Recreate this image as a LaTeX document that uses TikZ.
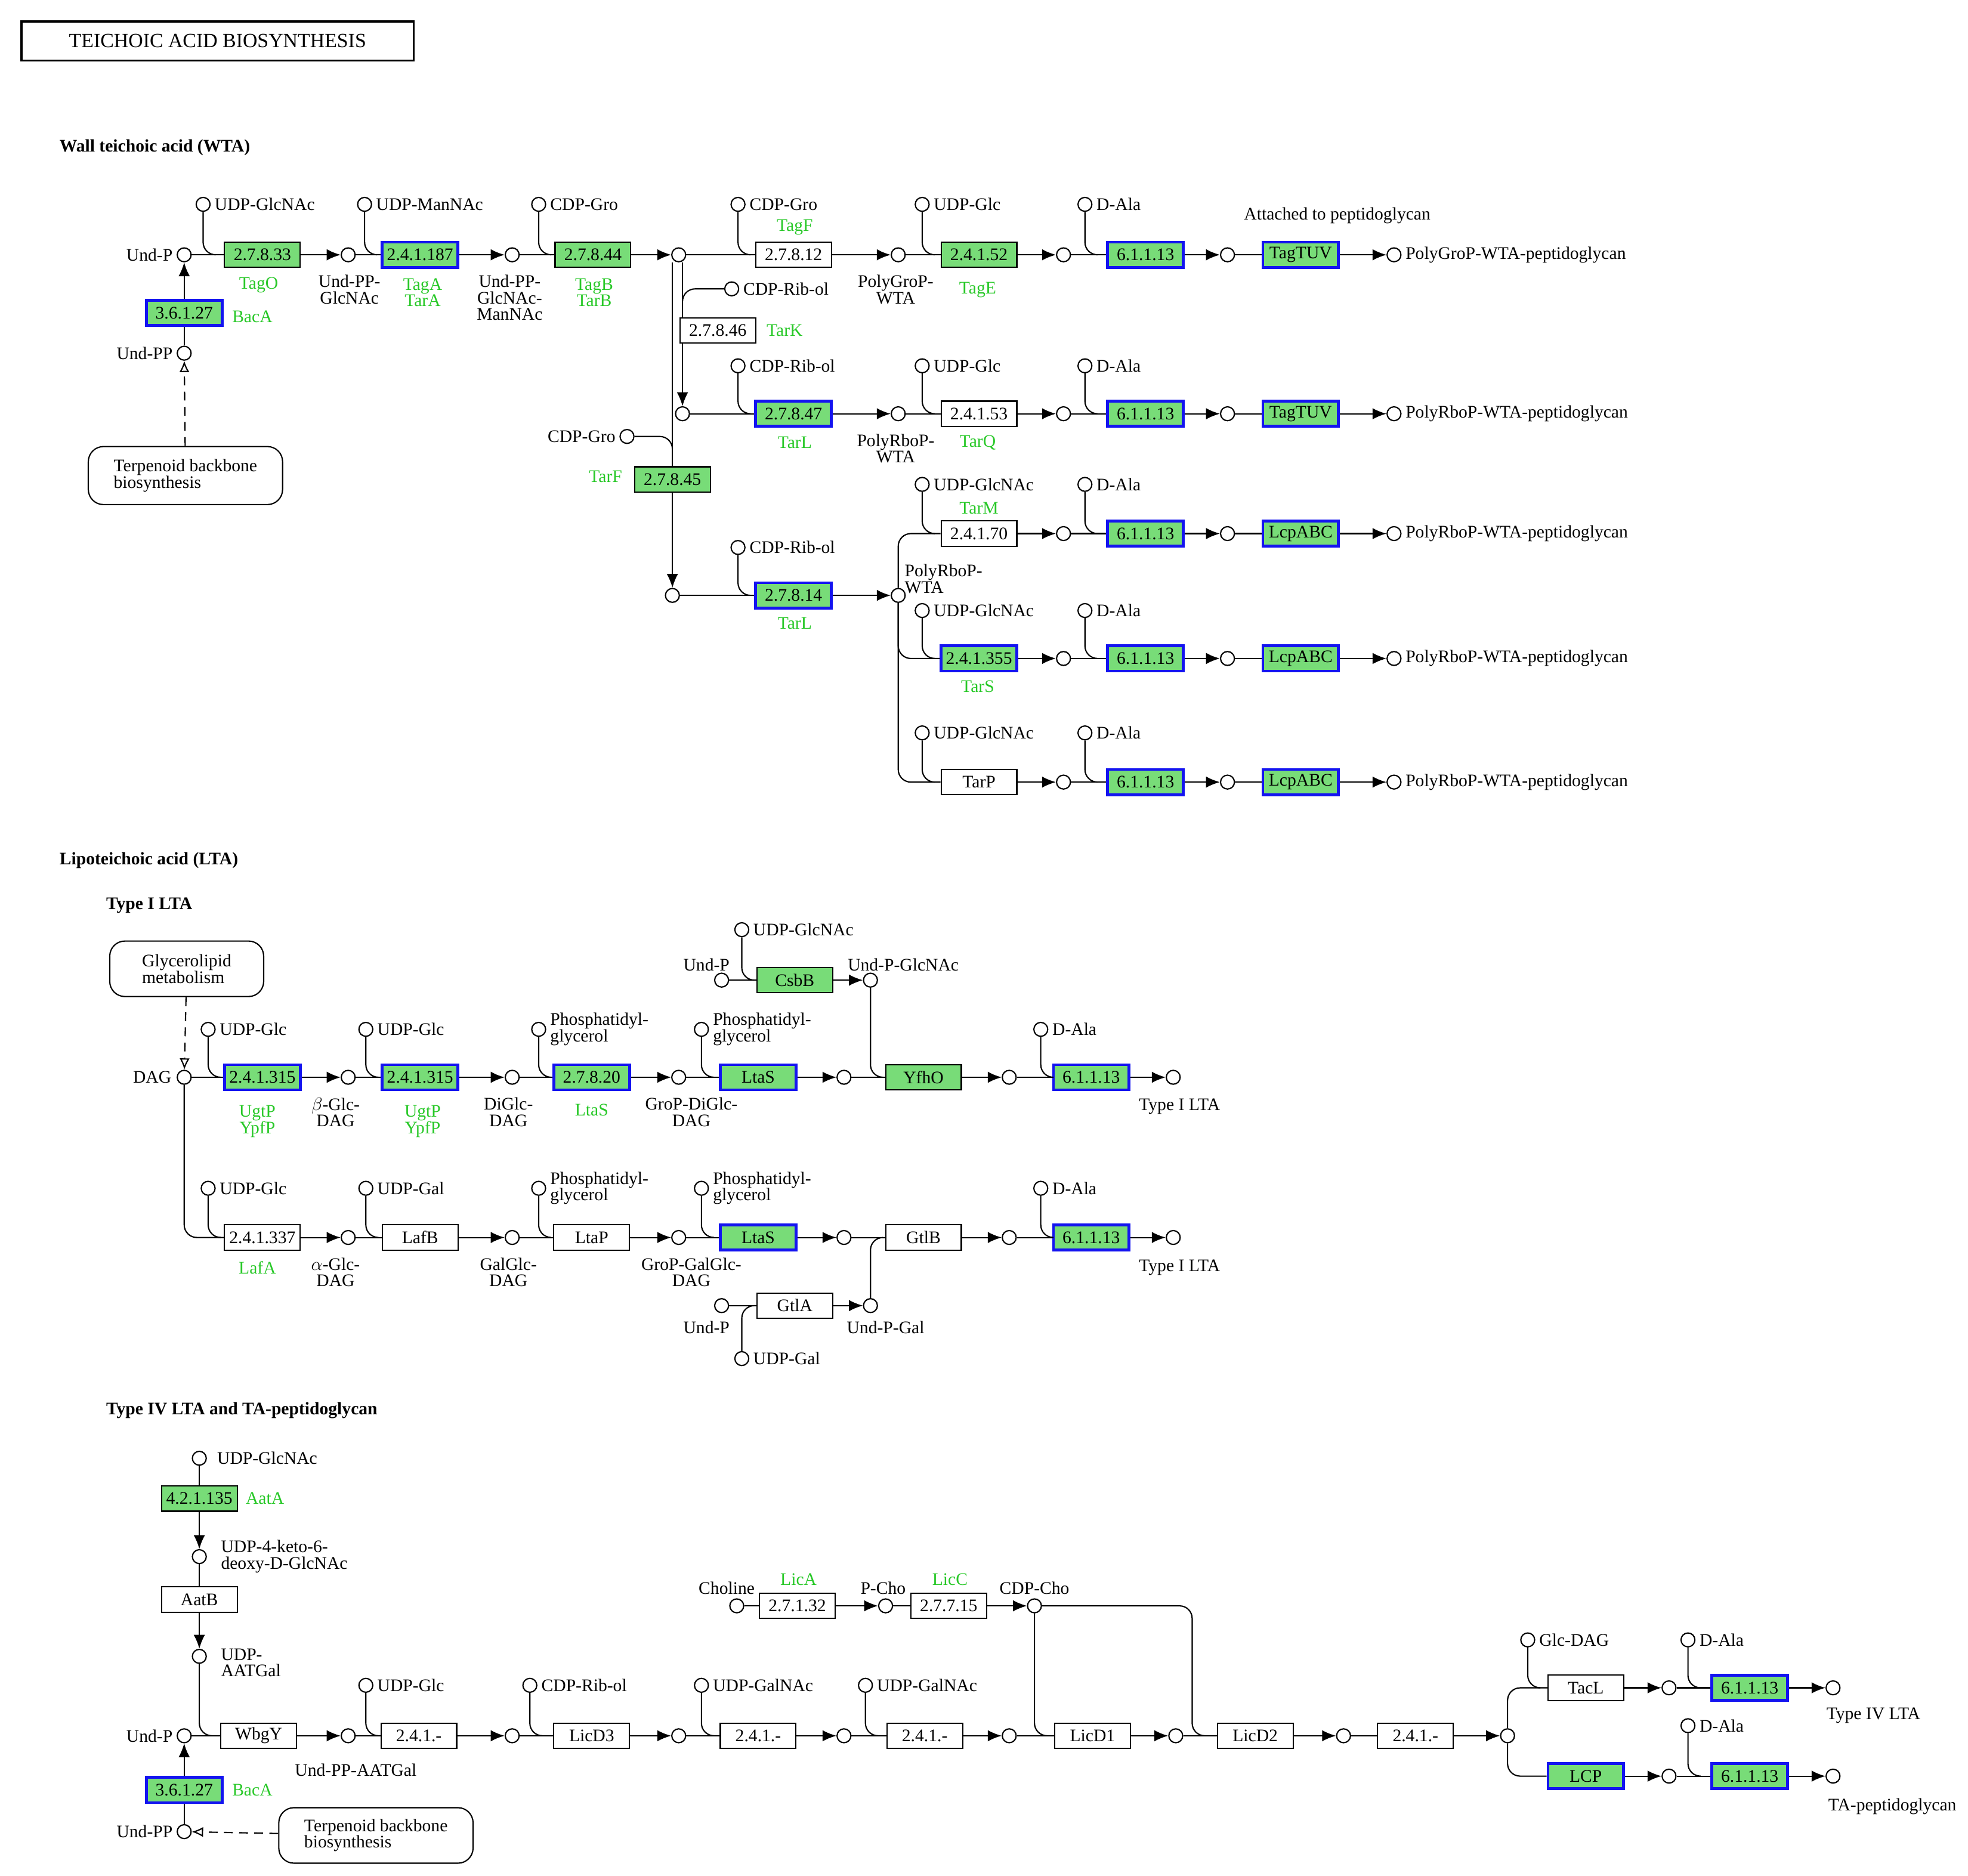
\documentclass[tikz,border=0pt]{standalone}
\usepackage{fontspec}
\setmainfont{Liberation Serif}
\usetikzlibrary{arrows.meta}
\definecolor{kg}{RGB}{120,220,120}
\definecolor{kb}{RGB}{20,20,240}
\definecolor{kt}{RGB}{40,200,40}
\newcommand\lf{\fontsize{14}{13}\selectfont}
\tikzset{
 cp/.style={circle,draw,fill=white,minimum size=11pt,inner sep=0pt,line width=1pt},
 e/.style={draw,fill=white,minimum width=60pt,minimum height=20pt,inner sep=0pt,line width=1pt,font=\lf},
 eg/.style={e,fill=kg},
 eb/.style={e,fill=kg,draw=kb,line width=2.2pt},
 gl/.style={text=kt,font=\lf,align=center,inner sep=0pt},
 lab/.style={align=left,inner sep=0pt,font=\lf},
 labc/.style={align=center,inner sep=0pt,font=\lf},
 ln/.style={line width=1pt},
 ar/.style={line width=1pt,-{Latex[length=11pt,width=9pt]}},
 da/.style={line width=1pt,dashed,dash pattern=on 7pt off 5pt,-{Latex[open,length=9pt,width=8pt]}},
 rb/.style={draw,rounded corners=12pt,line width=1pt,align=left,font=\lf,inner sep=0pt},
 hd/.style={font=\fontsize{14}{14}\selectfont\bfseries,anchor=west,inner sep=0pt}
}
\newcommand\cpd[3]{\node[cp] (#1) at (#2,#3) {};}
\newcommand\enz[5]{\node[#4] (#1) at (#2,#3) {#5};}
\newcommand\sdd[5]{\node[cp] (#1) at (#2,#3) {};
 \node[lab,anchor=west] at ([xshift=3pt]#1.east) {#4};
 \draw[ln] (#1.south) -- (#2,#5-10) to[out=-90,in=180] (#2+10,#5);}
\newcommand\chn[3]{\draw[ln] (#1) -- (#2); \draw[ar] (#2) -- (#3);}
\begin{document}
\begin{tikzpicture}[x=1pt,y=-1pt]
\useasboundingbox (0,0) rectangle (1560,1487);
\node[draw,line width=1.5pt,minimum width=311pt,minimum height=31pt,font=\fontsize{16}{16}\selectfont] (title) at (172.5,32.5) {TEICHOIC ACID BIOSYNTHESIS};
\node[hd] (h1) at (47,117) {Wall teichoic acid (WTA)};
% Row 1
\cpd{u1}{146}{202} \node[lab,anchor=east] (lu1) at ([xshift=-3pt]u1.west) {Und-P};
\enz{e1}{208}{202}{eg}{2.7.8.33} \sdd{s1}{161}{162}{UDP-GlcNAc}{202} \node[gl] (g1) at (205,226) {TagO};
\cpd{c2}{276}{202} \node[labc,anchor=north] (l2) at (277,218) {Und-PP-\\GlcNAc};
\chn{u1}{e1}{c2}
\enz{e2}{333}{202}{eb}{2.4.1.187} \sdd{s2}{289}{162}{UDP-ManNAc}{202} \node[gl] (g2) at (335,232) {TagA\\TarA};
\cpd{c3}{406}{202} \node[labc,anchor=north] (l3) at (404,218) {Und-PP-\\GlcNAc-\\ManNAc};
\chn{c2}{e2}{c3}
\enz{e3}{470}{202}{eg}{2.7.8.44} \sdd{s3}{427}{162}{CDP-Gro}{202} \node[gl] (g3) at (471,232) {TagB\\TarB};
\cpd{c4}{538}{202}
\chn{c3}{e3}{c4}
\enz{e4}{629}{202}{e}{2.7.8.12} \sdd{s4}{585}{162}{CDP-Gro}{202} \node[gl] (g4) at (630,180) {TagF};
\cpd{c5}{712}{202} \node[labc,anchor=north] (l5) at (710,218) {PolyGroP-\\WTA};
\chn{c4}{e4}{c5}
\enz{e5}{776}{202}{eg}{2.4.1.52} \sdd{s5}{731}{162}{UDP-Glc}{202} \node[gl] (g5) at (775,230) {TagE};
\cpd{c6}{843}{202}
\chn{c5}{e5}{c6}
\enz{e6}{908}{202}{eb}{6.1.1.13} \sdd{s6}{860}{162}{D-Ala}{202}
\cpd{c7}{973}{202}
\chn{c6}{e6}{c7}
\enz{e7}{1031}{202}{eb}{TagTUV}
\cpd{c8}{1105}{202} \node[lab,anchor=west] (l8) at ([xshift=3pt]c8.east) {PolyGroP-WTA-peptidoglycan};
\chn{c7}{e7}{c8}
\node[lab] (att) at (1060,171) {Attached to peptidoglycan};
% branches from c4
\cpd{c9}{541}{328} \cpd{c10}{533}{472}
\draw[ar] (c4.south -| c9) -- (c9);
\enz{e8}{533}{380}{eg}{2.7.8.45}
\draw[ln] (c4.south -| c10) -- (e8); \draw[ar] (e8) -- (c10);
\enz{e8b}{569}{262}{e}{2.7.8.46} \node[gl] (g8b) at (622,262) {TarK};
\cpd{s7}{580}{229} \node[lab,anchor=west] at ([xshift=3pt]s7.east) {CDP-Rib-ol};
\draw[ln] (s7.west) -- (551,229) to[out=180,in=90] (541,239);
\cpd{s8}{497}{346} \node[lab,anchor=east] at ([xshift=-3pt]s8.west) {CDP-Gro};
\draw[ln] (s8.east) -- (523,346) to[out=0,in=90] (533,356);
\node[gl] (g8) at (480,378) {TarF};
% Row 2
\enz{e9}{629}{328}{eb}{2.7.8.47} \sdd{s9}{585}{290}{CDP-Rib-ol}{328} \node[gl] (g9) at (630,351) {TarL};
\cpd{c11}{712}{328} \node[labc,anchor=north] (l11) at (710,344) {PolyRboP-\\WTA};
\chn{c9}{e9}{c11}
\enz{e10}{776}{328}{e}{2.4.1.53} \sdd{s10}{731}{290}{UDP-Glc}{328} \node[gl] (g10) at (775,351) {TarQ};
\cpd{c12}{843}{328}
\chn{c11}{e10}{c12}
\enz{e11}{908}{328}{eb}{6.1.1.13} \sdd{s11}{860}{290}{D-Ala}{328}
\cpd{c13}{973}{328}
\chn{c12}{e11}{c13}
\enz{e12}{1031}{328}{eb}{TagTUV}
\cpd{c14}{1105}{328} \node[lab,anchor=west] at ([xshift=3pt]c14.east) {PolyRboP-WTA-peptidoglycan};
\chn{c13}{e12}{c14}
% Row c10
\enz{e13}{629}{472}{eb}{2.7.8.14} \sdd{s12}{585}{434}{CDP-Rib-ol}{472} \node[gl] (g13) at (630,494) {TarL};
\cpd{c15}{712}{472} \node[lab,anchor=west] (l15) at (717,459) {PolyRboP-\\WTA};
\chn{c10}{e13}{c15}
\enz{e14}{776}{423}{e}{2.4.1.70} \node[gl] (g14) at (776,403) {TarM}; \sdd{s13}{731}{384}{UDP-GlcNAc}{423}
\enz{e15}{776}{522}{eb}{2.4.1.355} \node[gl] (g15) at (775,544) {TarS}; \sdd{s15}{731}{484}{UDP-GlcNAc}{522}
\enz{e16}{776}{620}{e}{TarP} \sdd{s17}{731}{581}{UDP-GlcNAc}{620}
\draw[ln,rounded corners=10pt] (c15.north) |- (e14.west);
\draw[ln,rounded corners=10pt] (c15.south) |- (e15.west);
\draw[ln,rounded corners=10pt] (c15.south) |- (e16.west);
\cpd{c16}{843}{423} \enz{e17}{908}{423}{eb}{6.1.1.13} \sdd{s14}{860}{384}{D-Ala}{423}
\cpd{c17}{973}{423} \enz{e18}{1031}{423}{eb}{LcpABC} \cpd{c18}{1105}{423}
\node[lab,anchor=west] at ([xshift=3pt]c18.east) {PolyRboP-WTA-peptidoglycan};
\draw[ar] (e14) -- (c16); \chn{c16}{e17}{c17} \chn{c17}{e18}{c18}
\cpd{c19}{843}{522} \enz{e19}{908}{522}{eb}{6.1.1.13} \sdd{s16}{860}{484}{D-Ala}{522}
\cpd{c20}{973}{522} \enz{e20}{1031}{522}{eb}{LcpABC} \cpd{c21}{1105}{522}
\node[lab,anchor=west] at ([xshift=3pt]c21.east) {PolyRboP-WTA-peptidoglycan};
\draw[ar] (e15) -- (c19); \chn{c19}{e19}{c20} \chn{c20}{e20}{c21}
\cpd{c22}{843}{620} \enz{e21}{908}{620}{eb}{6.1.1.13} \sdd{s18}{860}{581}{D-Ala}{620}
\cpd{c23}{973}{620} \enz{e22}{1031}{620}{eb}{LcpABC} \cpd{c24}{1105}{620}
\node[lab,anchor=west] at ([xshift=3pt]c24.east) {PolyRboP-WTA-peptidoglycan};
\draw[ar] (e16) -- (c22); \chn{c22}{e21}{c23} \chn{c23}{e22}{c24}
% BacA top
\enz{e23}{146}{248}{eb}{3.6.1.27} \node[gl] (g23) at (200,251) {BacA};
\cpd{c25}{146}{280} \node[lab,anchor=east] at ([xshift=-3pt]c25.west) {Und-PP};
\chn{c25}{e23}{u1}
\node[rb,minimum width=154pt,minimum height=46pt] (t1) at (147,377) {Terpenoid backbone\\biosynthesis};
\draw[da] (t1) -- (c25);
% LTA
\node[hd] (h2) at (47,682) {Lipoteichoic acid (LTA)};
\node[hd] (h3) at (84,718) {Type I LTA};
\node[rb,minimum width=122pt,minimum height=44pt] (gm) at (148,768) {Glycerolipid\\metabolism};
\cpd{d1}{146}{854} \node[lab,anchor=east] at ([xshift=-4pt]d1.west) {DAG};
\draw[da] (gm) -- (d1);
\enz{e24}{208}{854}{eb}{2.4.1.315} \sdd{s19}{165}{816}{UDP-Glc}{854} \node[gl] at (204,889) {UgtP\\YpfP};
\cpd{c26}{276}{854} \node[labc,anchor=north] at (266,870) {$\beta$-Glc-\\DAG};
\chn{d1}{e24}{c26}
\enz{e25}{333}{854}{eb}{2.4.1.315} \sdd{s20}{290}{816}{UDP-Glc}{854} \node[gl] at (335,889) {UgtP\\YpfP};
\cpd{c27}{406}{854} \node[labc,anchor=north] at (403,870) {DiGlc-\\DAG};
\chn{c26}{e25}{c27}
\enz{e26}{469}{854}{eb}{2.7.8.20} \sdd{s21}{427}{816}{Phosphatidyl-\\glycerol}{854} \node[gl] at (469,880) {LtaS};
\cpd{c28}{538}{854} \node[labc,anchor=north] at (548,870) {GroP-DiGlc-\\DAG};
\chn{c27}{e26}{c28}
\enz{e27}{601}{854}{eb}{LtaS} \sdd{s22}{556}{816}{Phosphatidyl-\\glycerol}{854}
\cpd{c29}{669}{854}
\chn{c28}{e27}{c29}
\enz{e28}{732}{854}{eg}{YfhO}
\cpd{c30}{800}{854}
\chn{c29}{e28}{c30}
\enz{e29}{865}{854}{eb}{6.1.1.13} \sdd{s23}{825}{816}{D-Ala}{854}
\cpd{c31}{930}{854} \node[lab] at (935,877) {Type I LTA};
\chn{c30}{e29}{c31}
\cpd{s24}{572}{777} \node[lab,anchor=south] at (560,770) {Und-P};
\enz{e30}{630}{777}{eg}{CsbB} \sdd{s25}{588}{737}{UDP-GlcNAc}{777}
\cpd{c32}{690}{777} \node[lab,anchor=south] at (716,770) {Und-P-GlcNAc};
\chn{s24}{e30}{c32}
\draw[ln] (c32.south) -- (690,844) to[out=-90,in=180] (700,854);
% row 981
\enz{e31}{208}{981}{e}{2.4.1.337}
\draw[ln,rounded corners=10pt] (d1.south) |- (e31.west);
\sdd{s26}{165}{942}{UDP-Glc}{981} \node[gl] at (204,1005) {LafA};
\cpd{c33}{276}{981} \node[labc,anchor=north] at (266,997) {$\alpha$-Glc-\\DAG};
\draw[ar] (e31) -- (c33);
\enz{e32}{333}{981}{e}{LafB} \sdd{s27}{290}{942}{UDP-Gal}{981}
\cpd{c34}{406}{981} \node[labc,anchor=north] at (403,997) {GalGlc-\\DAG};
\chn{c33}{e32}{c34}
\enz{e33}{469}{981}{e}{LtaP} \sdd{s28}{427}{942}{Phosphatidyl-\\glycerol}{981}
\cpd{c35}{538}{981} \node[labc,anchor=north] at (548,997) {GroP-GalGlc-\\DAG};
\chn{c34}{e33}{c35}
\enz{e34}{601}{981}{eb}{LtaS} \sdd{s29}{556}{942}{Phosphatidyl-\\glycerol}{981}
\cpd{c36}{669}{981}
\chn{c35}{e34}{c36}
\enz{e35}{732}{981}{e}{GtlB}
\cpd{c37}{800}{981}
\chn{c36}{e35}{c37}
\enz{e36}{865}{981}{eb}{6.1.1.13} \sdd{s30}{825}{942}{D-Ala}{981}
\cpd{c38}{930}{981} \node[lab] at (935,1005) {Type I LTA};
\chn{c37}{e36}{c38}
\cpd{s31}{572}{1035} \node[lab,anchor=north] at (560,1047) {Und-P};
\cpd{s32}{588}{1077} \node[lab,anchor=west] at ([xshift=3pt]s32.east) {UDP-Gal};
\enz{e37}{630}{1035}{e}{GtlA}
\cpd{c39}{690}{1035} \node[lab,anchor=north] at (702,1047) {Und-P-Gal};
\chn{s31}{e37}{c39}
\draw[ln] (s32.north) -- (588,1045) to[out=90,in=180] (598,1035);
\draw[ln] (c39.north) -- (690,991) to[out=90,in=180] (700,981);
% Type IV
\node[hd] (h4) at (84,1118) {Type IV LTA and TA-peptidoglycan};
\cpd{s33}{158}{1156} \node[lab,anchor=west] at ([xshift=8pt]s33.east) {UDP-GlcNAc};
\enz{e38}{158}{1188}{eg}{4.2.1.135} \node[gl] at (210,1188) {AatA};
\cpd{c40}{158}{1234} \node[lab,anchor=west] at (175,1234) {UDP-4-keto-6-\\deoxy-D-GlcNAc};
\chn{s33}{e38}{c40}
\enz{e39}{158}{1268}{e}{AatB}
\cpd{c41}{158}{1313} \node[lab,anchor=west] at (175,1318) {UDP-\\AATGal};
\chn{c40}{e39}{c41}
\draw[ln] (c41.south) -- (158,1366) to[out=-90,in=180] (168,1376);
\cpd{u2}{146}{1376} \node[lab,anchor=east] at ([xshift=-3pt]u2.west) {Und-P};
\enz{e40}{205}{1376}{e}{WbgY}
\cpd{c42}{276}{1376} \node[lab] at (282,1403) {Und-PP-AATGal};
\chn{u2}{e40}{c42}
\enz{e41}{332}{1376}{e}{2.4.1.-} \sdd{s34}{290}{1336}{UDP-Glc}{1376}
\cpd{c43}{406}{1376}
\chn{c42}{e41}{c43}
\enz{e42}{469}{1376}{e}{LicD3} \sdd{s35}{420}{1336}{CDP-Rib-ol}{1376}
\cpd{c44}{538}{1376}
\chn{c43}{e42}{c44}
\enz{e43}{601}{1376}{e}{2.4.1.-} \sdd{s36}{556}{1336}{UDP-GalNAc}{1376}
\cpd{c45}{669}{1376}
\chn{c44}{e43}{c45}
\enz{e44}{733}{1376}{e}{2.4.1.-} \sdd{s37}{686}{1336}{UDP-GalNAc}{1376}
\cpd{c46}{800}{1376}
\chn{c45}{e44}{c46}
\enz{e45}{866}{1376}{e}{LicD1}
\cpd{c47}{932}{1376}
\chn{c46}{e45}{c47}
\enz{e46}{995}{1376}{e}{LicD2}
\cpd{c48}{1065}{1376}
\chn{c47}{e46}{c48}
\enz{e47}{1122}{1376}{e}{2.4.1.-}
\cpd{c49}{1195}{1376}
\chn{c48}{e47}{c49}
\cpd{s38}{584}{1273} \node[lab,anchor=south] at (576,1264) {Choline};
\enz{e48}{632}{1273}{e}{2.7.1.32} \node[gl] at (633,1252) {LicA};
\cpd{c50}{702}{1273} \node[lab,anchor=south] at (700,1264) {P-Cho};
\chn{s38}{e48}{c50}
\enz{e49}{752}{1273}{e}{2.7.7.15} \node[gl] at (753,1252) {LicC};
\cpd{c51}{820}{1273} \node[lab,anchor=south] at (820,1264) {CDP-Cho};
\chn{c50}{e49}{c51}
\draw[ln] (c51.south) -- (820,1366) to[out=-90,in=180] (830,1376);
\draw[ln] (c51.east) -- (935,1273) to[out=0,in=90] (945,1283) -- (945,1366) to[out=-90,in=180] (955,1376);
\enz{e50}{146}{1419}{eb}{3.6.1.27} \node[gl] at (200,1419) {BacA};
\cpd{c52}{146}{1452} \node[lab,anchor=east] at ([xshift=-3pt]c52.west) {Und-PP};
\chn{c52}{e50}{u2}
\node[rb,minimum width=154pt,minimum height=44pt] (t2) at (298,1455) {Terpenoid backbone\\biosynthesis};
\draw[da] (t2) -- (c52);
\enz{e51}{1257}{1338}{e}{TacL} \enz{e52}{1257}{1408}{eb}{LCP}
\draw[ln,rounded corners=10pt] (c49.north) |- (e51.west);
\draw[ln,rounded corners=10pt] (c49.south) |- (e52.west);
\sdd{s39}{1211}{1300}{Glc-DAG}{1338}
\cpd{c53}{1323}{1338} \draw[ar] (e51) -- (c53);
\enz{e53}{1387}{1338}{eb}{6.1.1.13} \sdd{s40}{1338}{1300}{D-Ala}{1338}
\cpd{c54}{1453}{1338} \node[lab] at (1485,1360) {Type IV LTA};
\chn{c53}{e53}{c54}
\cpd{c55}{1323}{1408} \draw[ar] (e52) -- (c55);
\enz{e54}{1387}{1408}{eb}{6.1.1.13} \sdd{s41}{1338}{1368}{D-Ala}{1408}
\cpd{c56}{1453}{1408} \node[lab] at (1500,1432) {TA-peptidoglycan};
\chn{c55}{e54}{c56}
\end{tikzpicture}
\end{document}
